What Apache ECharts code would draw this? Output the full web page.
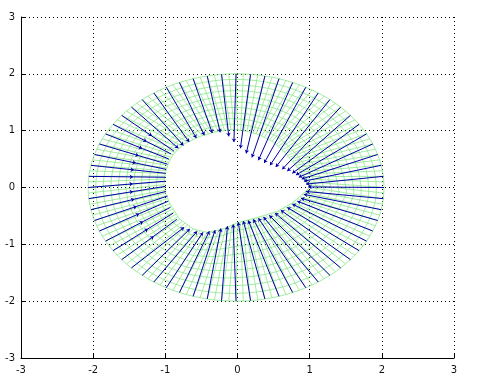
<!DOCTYPE html>
<html><head><meta charset="utf-8">
<script src="https://cdn.jsdelivr.net/npm/echarts/dist/echarts.min.js"></script>
<style>html,body{margin:0;padding:0;background:#fff}#c{width:479px;height:388px}</style>
</head><body><div id="c"></div>
<script>
// ---- data ----
const tickValues = [-3, -2, -1, 0, 1, 2, 3];
// inner body boundary (counter-clockwise from trailing edge)
const innerX = [1.00, 0.92, 0.80, 0.65, 0.50, 0.30, 0.10, -0.10, -0.30, -0.52, -0.75, -0.88, -0.95, -1.00, -1.02, -1.00, -0.93, -0.80, -0.61, -0.42, -0.20, 0.00, 0.15, 0.35, 0.55, 0.75, 0.90];
const innerY = [0.00, 0.20, 0.40, 0.62, 0.80, 0.93, 1.00, 1.02, 0.98, 0.90, 0.76, 0.60, 0.45, 0.25, 0.05, -0.10, -0.30, -0.56, -0.73, -0.79, -0.73, -0.62, -0.57, -0.50, -0.42, -0.28, -0.12];
const innerCenter = [0.0, 0.1];
// outer boundary (ellipse in data units)
const outerCenter = [-0.02, 0.0];
const outerRadiusX = 2.05;
const outerRadiusY = 2.0;
// mesh layers (fraction from body to outer boundary)
const ringFractions = [0, 0.1, 0.2, 0.3, 0.4, 0.5, 0.6, 0.7, 0.8, 0.9, 1.0];
const meshRadialCount = 128;
// blue vectors: start angle on outer boundary, end point, arrow-head position
const arrowAnglesDeg = [0,5.625,11.25,16.875,22.5,28.125,33.75,39.375,45,50.625,56.25,61.875,67.5,73.125,78.75,84.375,90,95.625,101.25,106.875,112.5,118.125,123.75,129.375,135,140.625,146.25,151.875,157.5,163.125,168.75,174.375,180,185.625,191.25,196.875,202.5,208.125,213.75,219.375,225,230.625,236.25,241.875,247.5,253.125,258.75,264.375,270,275.625,281.25,286.875,292.5,298.125,303.75,309.375,315,320.625,326.25,331.875,337.5,343.125,348.75,354.375];
const arrowTipX = [0.98,0.95,0.92,0.89,0.85,0.81,0.76,0.69,0.62,0.53,0.45,0.37,0.29,0.20,0.12,0.04,-0.05,-0.12,-0.24,-0.35,-0.46,-0.57,-0.67,-0.75,-0.82,-0.88,-0.92,-0.95,-0.97,-0.99,-1.00,-1.00,-1.00,-1.00,-0.99,-0.97,-0.96,-0.93,-0.89,-0.84,-0.74,-0.66,-0.56,-0.48,-0.39,-0.31,-0.23,-0.14,-0.06,0.01,0.08,0.15,0.22,0.29,0.36,0.44,0.52,0.60,0.69,0.76,0.83,0.88,0.92,0.95];
const arrowTipY = [0.01,0.06,0.11,0.15,0.18,0.22,0.25,0.29,0.32,0.36,0.39,0.43,0.48,0.53,0.60,0.69,0.80,0.90,0.97,0.96,0.92,0.87,0.80,0.74,0.69,0.64,0.59,0.50,0.41,0.32,0.25,0.18,0.11,0.02,-0.07,-0.15,-0.24,-0.35,-0.45,-0.56,-0.70,-0.73,-0.77,-0.79,-0.77,-0.75,-0.72,-0.68,-0.65,-0.61,-0.59,-0.58,-0.56,-0.54,-0.52,-0.49,-0.45,-0.40,-0.35,-0.29,-0.24,-0.19,-0.12,-0.07];
const arrowHeadAt = [1,1,1,1,1,1,1,1,1,1,1,1,1,1,1,1,1,1,1,1,1,1,1,1,1,0.58,0.58,0.58,0.58,0.58,0.58,0.58,0.58,0.58,0.58,0.58,0.58,0.58,0.58,0.58,1,1,1,1,1,1,1,1,1,1,1,1,1,1,1,1,1,1,1,1,1,1,1,1];

// ---- geometry helpers ----
function rayHit(cx, cy, dx, dy) {
  let best = Infinity;
  const n = innerX.length;
  for (let i = 0; i < n; i++) {
    const px = innerX[i], py = innerY[i];
    const qx = innerX[(i + 1) % n], qy = innerY[(i + 1) % n];
    const ex = qx - px, ey = qy - py;
    const det = -dx * ey + ex * dy;
    if (Math.abs(det) < 1e-12) continue;
    const t = (-(px - cx) * ey + ex * (py - cy)) / det;
    const u = (dx * (py - cy) - dy * (px - cx)) / det;
    if (t > 0 && u >= -1e-9 && u <= 1 + 1e-9 && t < best) best = t;
  }
  return [cx + best * dx, cy + best * dy];
}
function outerPoint(deg) {
  const a = deg * Math.PI / 180;
  return [outerCenter[0] + outerRadiusX * Math.cos(a), outerCenter[1] + outerRadiusY * Math.sin(a)];
}

// mesh nodes
const innerNodes = [], outerNodes = [];
for (let i = 0; i < meshRadialCount; i++) {
  const deg = i * 360 / meshRadialCount;
  const a = deg * Math.PI / 180;
  innerNodes.push(rayHit(innerCenter[0], innerCenter[1], Math.cos(a), Math.sin(a)));
  outerNodes.push(outerPoint(deg));
}
const meshLines = [];
ringFractions.forEach(t => {
  const ring = [];
  for (let i = 0; i <= meshRadialCount; i++) {
    const p = innerNodes[i % meshRadialCount], q = outerNodes[i % meshRadialCount];
    ring.push([p[0] + t * (q[0] - p[0]), p[1] + t * (q[1] - p[1])]);
  }
  meshLines.push({ coords: ring });
});
for (let i = 0; i < meshRadialCount; i++) {
  meshLines.push({ coords: [innerNodes[i], outerNodes[i]] });
}

// blue vectors
const headSegs = [], tailSegs = [];
arrowAnglesDeg.forEach((deg, k) => {
  const s = outerPoint(deg);
  const e = [arrowTipX[k], arrowTipY[k]];
  const f = arrowHeadAt[k];
  const h = [s[0] + f * (e[0] - s[0]), s[1] + f * (e[1] - s[1])];
  headSegs.push({ coords: [s, h] });
  if (f < 1) tailSegs.push({ coords: [h, e] });
});

const axisCommon = {
  type: 'value', min: -3, max: 3, interval: 1,
  axisLine: { onZero: false, lineStyle: { color: '#000', width: 1 } },
  axisTick: { inside: true, length: 5, lineStyle: { color: '#000' } },
  axisLabel: { color: '#111', fontSize: 10, fontFamily: 'DejaVu Sans', showMinLabel: true, showMaxLabel: true },
  splitLine: { show: true, lineStyle: { color: '#000', width: 1, type: [1, 3] } }
};

const chart = echarts.init(document.getElementById('c'), null, { renderer: 'canvas' });
chart.setOption({
  animation: false,
  backgroundColor: '#fff',
  grid: { left: 21, right: 25, top: 17, bottom: 30, outerBoundsMode: 'none', containLabel: false },
  xAxis: Object.assign({}, axisCommon, { axisLabel: Object.assign({}, axisCommon.axisLabel, { margin: 7 }) }),
  yAxis: Object.assign({}, axisCommon, { axisLabel: Object.assign({}, axisCommon.axisLabel, { margin: 6 }) }),
  series: [
    {
      type: 'lines', coordinateSystem: 'cartesian2d', polyline: true, silent: true,
      symbol: 'none',
      lineStyle: { color: 'rgb(125,228,125)', width: 0.7, opacity: 1 },
      data: meshLines
    },
    {
      type: 'lines', coordinateSystem: 'cartesian2d', silent: true,
      symbol: ['none', 'arrow'], symbolSize: 3.5,
      lineStyle: { color: '#0000a8', width: 1, opacity: 1 },
      data: headSegs
    },
    {
      type: 'lines', coordinateSystem: 'cartesian2d', silent: true,
      symbol: 'none',
      lineStyle: { color: '#0000a8', width: 1, opacity: 1 },
      data: tailSegs
    }
  ]
});
</script>
</body></html>
